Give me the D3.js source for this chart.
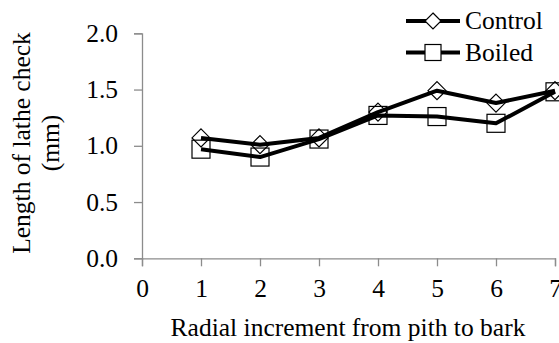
<!DOCTYPE html>
<html><head><meta charset="utf-8">
<script src="https://cdn.jsdelivr.net/npm/d3@7"></script>
<style>body{margin:0;background:#fff}svg{display:block}</style>
</head><body><svg id="c" width="559" height="343"></svg>
<script>
const increments = [1,2,3,4,5,6,7];
const control = [1.07,1.01,1.07,1.30,1.49,1.38,1.49];
const boiled = [0.97,0.90,1.06,1.27,1.26,1.20,1.48];
const xTicks = [0,1,2,3,4,5,6,7];
const yTicks = [0,0.5,1.0,1.5,2.0];
const seriesNames = ["Control","Boiled"];

const FONT = "'Times New Roman', 'Liberation Serif', 'DejaVu Serif', serif";
const svg = d3.select("#c");
const x = d3.scaleLinear().domain([0,7]).range([142,555]);
const y = d3.scaleLinear().domain([0,2]).range([258.3,33.3]);
const axisColor = "#8c8c8c";
const fs = 25.5;

// axes
const gx = svg.append("g").attr("transform",`translate(0,${y(0)})`)
  .call(d3.axisBottom(x).tickValues(xTicks).tickSize(8).tickPadding(13).tickFormat(d3.format("d")));
const gy = svg.append("g").attr("transform",`translate(${x(0)},0)`)
  .call(d3.axisLeft(y).tickValues(yTicks).tickSize(8).tickPadding(16).tickFormat(d3.format(".1f")));
[gx,gy].forEach(g=>{
  g.attr("font-family",FONT).attr("font-size",fs);
  g.select(".domain").attr("stroke",axisColor).attr("stroke-width",1.3);
  g.selectAll(".tick line").attr("stroke",axisColor).attr("stroke-width",1.3);
  g.selectAll(".tick text").attr("font-family",FONT).attr("font-size",fs).attr("fill","#000");
});
gx.selectAll(".tick text").attr("dy","0.71em");

// lines
const line = d3.line().x((d,i)=>x(increments[i])).y(d=>y(d));
[boiled, control].forEach(s=>{
  svg.append("path").datum(s).attr("d",line).attr("fill","none").attr("stroke","#000").attr("stroke-width",4).attr("stroke-linejoin","round");
});
function marker(g, type, cx, cy, r){
  if(type==="diamond"){
    g.append("path").attr("d",`M${cx},${cy-r}L${cx+r},${cy}L${cx},${cy+r}L${cx-r},${cy}Z`).attr("fill","none").attr("stroke","#000").attr("stroke-width",1.2);
  } else {
    g.append("rect").attr("x",cx-r).attr("y",cy-r).attr("width",2*r).attr("height",2*r).attr("fill","none").attr("stroke","#000").attr("stroke-width",1.2);
  }
}
const mg = svg.append("g");
boiled.forEach((v,i)=>marker(mg,"square",x(increments[i]),y(v),9));
control.forEach((v,i)=>marker(mg,"diamond",x(increments[i]),y(v),9));

// legend
const leg = svg.append("g");
seriesNames.forEach((n,i)=>{
  const ly = 21 + i*31.5;
  leg.append("line").attr("x1",406).attr("x2",460).attr("y1",ly).attr("y2",ly).attr("stroke","#000").attr("stroke-width",4);
  if(i===0){
    const r=8;
    leg.append("path").attr("d",`M433,${ly-r}L${433+r},${ly}L433,${ly+r}L${433-r},${ly}Z`).attr("fill","#fff").attr("stroke","#000").attr("stroke-width",1.2);
  } else {
    leg.append("rect").attr("x",425).attr("y",ly-8).attr("width",16).attr("height",16).attr("fill","#fff").attr("stroke","#000").attr("stroke-width",1.2);
  }
  leg.append("text").attr("x",465).attr("y",ly).attr("dy","0.33em").attr("font-family",FONT).attr("font-size",fs).text(n);
});

// axis titles
svg.append("text").attr("x",348).attr("y",336).attr("text-anchor","middle").attr("font-family",FONT).attr("font-size",fs).text("Radial increment from pith to bark");
const yt = svg.append("text").attr("transform","translate(0,143) rotate(-90)").attr("text-anchor","middle").attr("font-family",FONT).attr("font-size",fs);
yt.append("tspan").attr("x",0).attr("y",30).text("Length of lathe check");
yt.append("tspan").attr("x",0).attr("y",59).text("(mm)");
</script></body></html>
